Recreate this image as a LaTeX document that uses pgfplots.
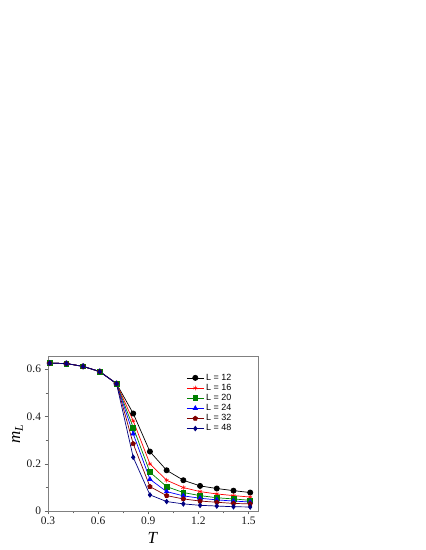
\documentclass[border=0pt]{standalone}
\usepackage{fontspec}
\setmainfont{Liberation Serif}
\newfontfamily\arial{Liberation Sans}
\usepackage{pgfplots}
\pgfplotsset{compat=1.18}
\usetikzlibrary{plotmarks}
\definecolor{dgreen}{HTML}{008000}
\definecolor{dred}{HTML}{800000}
\definecolor{navy}{HTML}{000080}
\begin{document}
\begin{tikzpicture}[x=1bp,y=1bp]
\path[use as bounding box] (0,0) rectangle (425,550);
\begin{axis}[
    at={(48bp,39bp)}, anchor=south west,
    scale only axis, width=209.7bp, height=154.3bp,
    xmin=0.3, xmax=1.555, ymin=0, ymax=0.652,
    xtick={0.3,0.6,0.9,1.2,1.5}, ytick={0,0.2,0.4,0.6},
    minor x tick num=1, minor y tick num=1,
    xtick pos=left, ytick pos=left, tick align=outside,
    major tick length=3.5bp, minor tick length=2.5bp,
    axis line style={gray}, tick style={gray!80!black},
    /pgf/number format/assume math mode=true,
    /pgf/number format/fixed, /pgf/number format/precision=1,
    tick label style={font=\fontsize{11.5}{13}\selectfont, black!90},
    xticklabel style={yshift=1bp},
    xlabel={\textit{T}}, ylabel={\textit{m}\textsubscript{\textit{L}}},
    label style={font=\fontsize{17}{18}\selectfont},
    xlabel style={yshift=-1bp}, ylabel style={yshift=-3bp},
    legend style={at={(0.645,0.915)}, anchor=north west, draw=none, fill=none,
        font=\arial\fontsize{9}{10}\selectfont, row sep=-1.6bp},
    legend cell align=left,
    legend image code/.code={\draw[mark repeat=2,mark phase=2] plot coordinates {(0bp,0bp)(8.5bp,0bp)(17bp,0bp)};},
    every axis plot/.append style={line width=0.7bp},
]
\addplot[black, mark=*, mark size=2.6bp] coordinates {
(0.31,0.625) (0.41,0.623) (0.51,0.611) (0.61,0.589) (0.71,0.538) (0.81,0.412) (0.91,0.251)
(1.01,0.172) (1.11,0.130) (1.21,0.106) (1.31,0.095) (1.41,0.086) (1.51,0.078)};
\addlegendentry{L = 12}
\addplot[red, mark=asterisk, mark size=2.3bp, mark options={line width=0.5bp}] coordinates {
(0.31,0.625) (0.41,0.623) (0.51,0.611) (0.61,0.589) (0.71,0.538) (0.81,0.381) (0.91,0.199)
(1.01,0.130) (1.11,0.099) (1.21,0.082) (1.31,0.072) (1.41,0.065) (1.51,0.059)};
\addlegendentry{L = 16}
\addplot[dgreen, mark=square*, mark size=2.4bp] coordinates {
(0.31,0.625) (0.41,0.623) (0.51,0.611) (0.61,0.589) (0.71,0.538) (0.81,0.353) (0.91,0.164)
(1.01,0.103) (1.11,0.078) (1.21,0.065) (1.31,0.056) (1.41,0.051) (1.51,0.045)};
\addlegendentry{L = 20}
\addplot[blue, mark=triangle*, mark size=2.5bp] coordinates {
(0.31,0.625) (0.41,0.623) (0.51,0.611) (0.61,0.589) (0.71,0.538) (0.81,0.326) (0.91,0.134)
(1.01,0.082) (1.11,0.064) (1.21,0.054) (1.31,0.047) (1.41,0.042) (1.51,0.038)};
\addlegendentry{L = 24}
\addplot[dred, mark=pentagon*, mark size=2.3bp] coordinates {
(0.31,0.625) (0.41,0.623) (0.51,0.611) (0.61,0.589) (0.71,0.538) (0.81,0.284) (0.91,0.103)
(1.01,0.065) (1.11,0.051) (1.21,0.042) (1.31,0.037) (1.41,0.032) (1.51,0.030)};
\addlegendentry{L = 32}
\addplot[navy, mark=diamond*, mark size=2.3bp] coordinates {
(0.31,0.625) (0.41,0.623) (0.51,0.611) (0.61,0.589) (0.71,0.538) (0.81,0.227) (0.91,0.068)
(1.01,0.040) (1.11,0.030) (1.21,0.024) (1.31,0.021) (1.41,0.018) (1.51,0.017)};
\addlegendentry{L = 48}
\end{axis}
\end{tikzpicture}
\end{document}
